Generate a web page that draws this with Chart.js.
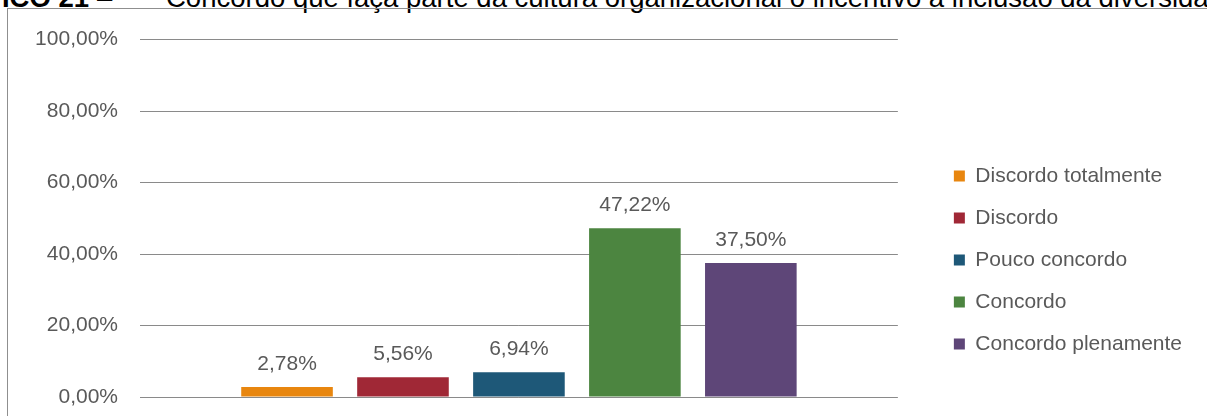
<!DOCTYPE html>
<html>
<head>
<meta charset="utf-8">
<script src="https://cdn.jsdelivr.net/npm/chart.js@4.4.1/dist/chart.umd.min.js"></script>
<style>
  html, body { margin:0; padding:0; background:#fff; }
  body { width:1207px; height:416px; overflow:hidden; position:relative; font-family:"Liberation Sans", Arial, sans-serif; }
  .tit { position:absolute; top:-16px; font-size:27.5px; line-height:27px; color:#000; white-space:nowrap; }
  #frame { position:absolute; left:7px; top:8px; width:1300px; height:600px; border-top:1px solid #8f8f8f; border-left:1px solid #8f8f8f; }
  #wrap { position:absolute; left:8px; top:5px; width:1199px; height:499px; }
</style>
</head>
<body>
<b class="tit" style="left:-76px">GRÁFICO 21</b>
<span class="tit" style="left:97px">–</span>
<span class="tit" style="left:166px">Concordo que faça parte da cultura organizacional o incentivo à inclusão da diversidade</span>
<div id="frame"></div>
<div id="wrap"><canvas id="grafico"></canvas></div>
<script>
// respostas (percentual)
const categorias = ['Discordo totalmente', 'Discordo', 'Pouco concordo', 'Concordo', 'Concordo plenamente'];
const valores = [2.78, 5.56, 6.94, 47.22, 37.50];
const cores = ['#E8860F', '#A02836', '#1E5878', '#4C8540', '#5E4678'];
const ticksY = [0, 20, 40, 60, 80, 100];

const TXT = '#595959';
const FONT = "'Liberation Sans', Arial, sans-serif";
const fmtPct = v => v.toFixed(2).replace('.', ',') + '%';

// rótulos de valor acima de cada barra
const rotulos = {
  id: 'rotulos',
  afterDatasetsDraw(chart) {
    const ctx = chart.ctx;
    ctx.save();
    ctx.font = `21px ${FONT}`;
    ctx.fillStyle = TXT;
    ctx.textAlign = 'center';
    ctx.textBaseline = 'alphabetic';
    chart.data.datasets.forEach((ds, i) => {
      chart.getDatasetMeta(i).data.forEach((bar, j) => {
        ctx.fillText(fmtPct(ds.data[j]), bar.x, bar.y - 17);
      });
    });
    ctx.restore();
  }
};

new Chart(document.getElementById('grafico'), {
  type: 'bar',
  data: {
    labels: [''],
    datasets: categorias.map((c, i) => ({
      label: c, data: [valores[i]], backgroundColor: cores[i], borderWidth: 0,
      categoryPercentage: 0.765, barPercentage: 0.79
    }))
  },
  options: {
    responsive: true, maintainAspectRatio: false, animation: false,
    layout: { padding: { top: 11, left: 0, right: 15, bottom: 0 } },
    plugins: {
      legend: {
        position: 'right', align: 'center', maxWidth: 320,
        labels: { boxWidth: 11, boxHeight: 11, padding: 21, color: TXT, font: { family: FONT, size: 21 } }
      },
      tooltip: { enabled: false }
    },
    scales: {
      x: {
        grid: { display: false }, border: { display: false }, ticks: { display: false },
        afterFit: s => { s.height = 107; }
      },
      y: {
        min: 0, max: 100,
        afterBuildTicks: s => { s.ticks = ticksY.map(v => ({ value: v })); },
        afterFit: s => { s.width = 132; },
        grid: { color: '#8a8a8a', lineWidth: 1, drawTicks: false },
        border: { display: false },
        ticks: { padding: 22, color: TXT, font: { family: FONT, size: 21 }, callback: v => fmtPct(v) }
      },
      // espaço entre a área do gráfico e a legenda
      folga: {
        position: 'right', grid: { display: false }, border: { display: false }, ticks: { display: false },
        afterFit: s => { s.width = 35; }
      }
    }
  },
  plugins: [rotulos]
});
</script>
</body>
</html>
